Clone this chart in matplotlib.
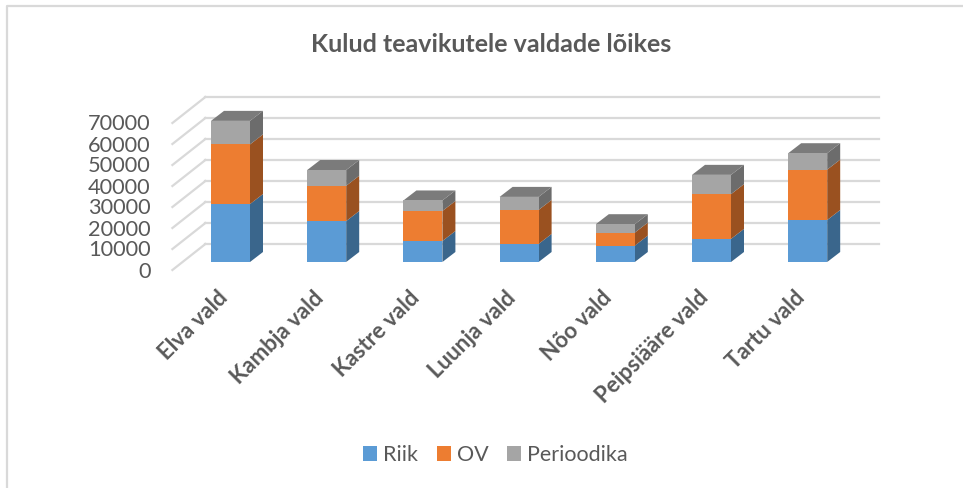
#!/usr/bin/env python3
# coding=utf-8
"""Kulud teavikutele valdade loikes - stacked bars with a drawn-on 3D look."""

import matplotlib

matplotlib.use("Agg")
import matplotlib.pyplot as plt
from matplotlib.lines import Line2D
from matplotlib.patches import Polygon

plt.rcParams["font.family"] = ["Lato", "DejaVu Sans"]

# Data
categories = ["Elva vald", "Kambja vald", "Kastre vald", "Luunja vald",
              "Nõo vald", "Peipsiääre vald", "Tartu vald"]
series_names = ["Riik", "OV", "Perioodika"]
riik = [27600, 19500, 10000, 8600, 7800, 11000, 20000]
ov = [28400, 16800, 14300, 16200, 6200, 21300, 24000]
perioodika = [11200, 7500, 5000, 6200, 4000, 9200, 7800]
y_ticks = [0, 10000, 20000, 30000, 40000, 50000, 60000, 70000]

front_colors = ["#5b9bd5", "#ed7d31", "#a5a5a5"]
side_colors = ["#3a668c", "#9a5120", "#6c6c6c"]
top_colors = ["#4a7fae", "#c0652a", "#7b7b7b"]

W, H = 963, 488
PX_X = 96.2  # pixels per category
PX_Y = 21 / 10000  # pixels per unit
BAR_PX = 39


def main():
    fig = plt.figure(figsize=(W / 100, H / 100), dpi=100)

    # Frame of the pasted picture: only top and left edges are visible
    fig.add_artist(Line2D([6.5 / W, 6.5 / W, 1], [0, 1 - 6 / H, 1 - 6 / H], transform=fig.transFigure,
                          color="#d9d9d9", lw=1.6))

    # axes = plane of the bar fronts: y=0 at pixel row 262, category 0 centred at 230.5
    left = 230.5 - 0.5 * PX_X - 10
    bottom = 262
    top_val = 80000
    ax = fig.add_axes([left / W, (H - bottom) / H, 7 * PX_X / W, top_val * PX_Y / H])
    ax.set_xlim(-0.5 - 10 / PX_X, 6.5 - 10 / PX_X)
    ax.set_ylim(0, top_val)
    ax.axis("off")

    # depth of the bar itself, and offsets of the floor front / back from the bar plane
    ddx, ddy = 13 / PX_X, 10 / PX_Y
    front_dx, front_dy = -13 / PX_X, -8 / PX_Y
    back_dx, back_dy = 20 / PX_X, 18 / PX_Y
    x0, x1 = -0.5 - 10 / PX_X, 6.5 - 10 / PX_X

    for tick in y_ticks:
        ax.plot([x0 + front_dx + 13 / PX_X, x0 + back_dx + 13 / PX_X],
                [tick + front_dy, tick + back_dy],
                color="#d9d9d9", lw=1.6, clip_on=False, zorder=1)
        ax.plot([x0 + back_dx + 13 / PX_X, x1 + back_dx + 13 / PX_X],
                [tick + back_dy, tick + back_dy],
                color="#d9d9d9", lw=1.6, clip_on=False, zorder=1)
        ax.text(x0 - 22 / PX_X, tick + front_dy - 1.5 / PX_Y, str(tick), ha="right", va="center",
                fontsize=15.7, color="#595959", clip_on=False)

    half = BAR_PX / PX_X / 2
    base = [0] * len(categories)
    for values, fc, sc, tc, name in zip([riik, ov, perioodika], front_colors, side_colors,
                                        top_colors, series_names):
        ax.bar(range(len(categories)), values, bottom=base, width=2 * half, color=fc,
               zorder=3, label=name)
        for i, v in enumerate(values):
            xr = i + half
            ax.add_patch(Polygon([(xr, base[i]), (xr + ddx, base[i] + ddy),
                                  (xr + ddx, base[i] + v + ddy), (xr, base[i] + v)],
                                 facecolor=sc, edgecolor="none", zorder=2.9))
        base = [b + v for b, v in zip(base, values)]
        if name == series_names[-1]:
            for i, b in enumerate(base):
                xl, xr = i - half, i + half
                ax.add_patch(Polygon([(xl, b), (xr, b), (xr + ddx, b + ddy), (xl + ddx, b + ddy)],
                                     facecolor=tc, edgecolor="none", zorder=2.9))

    # Category labels, rotated, right end under the bar
    for i, label in enumerate(categories):
        ax.annotate(label, xy=(i, 0), xytext=(-10, -18), textcoords="offset points",
                    ha="right", va="top", rotation=45, rotation_mode="anchor",
                    fontsize=16, fontweight="bold", color="#595959", annotation_clip=False)

    fig.text(491 / W, 1 - 45 / H, "Kulud teavikutele valdade lõikes", ha="center", va="center",
             fontsize=18, fontweight="bold", color="#595959")

    handles, labels = ax.get_legend_handles_labels()
    fig.legend(handles, labels, loc="center", bbox_to_anchor=(495.5 / W, 1 - 455 / H), ncol=3,
               frameon=False, fontsize=15.5, labelcolor="#595959", handlelength=0.65,
               handleheight=0.65, handletextpad=0.3, columnspacing=0.85)

    fig.savefig("out.png", dpi=100)


if __name__ == "__main__":
    main()
